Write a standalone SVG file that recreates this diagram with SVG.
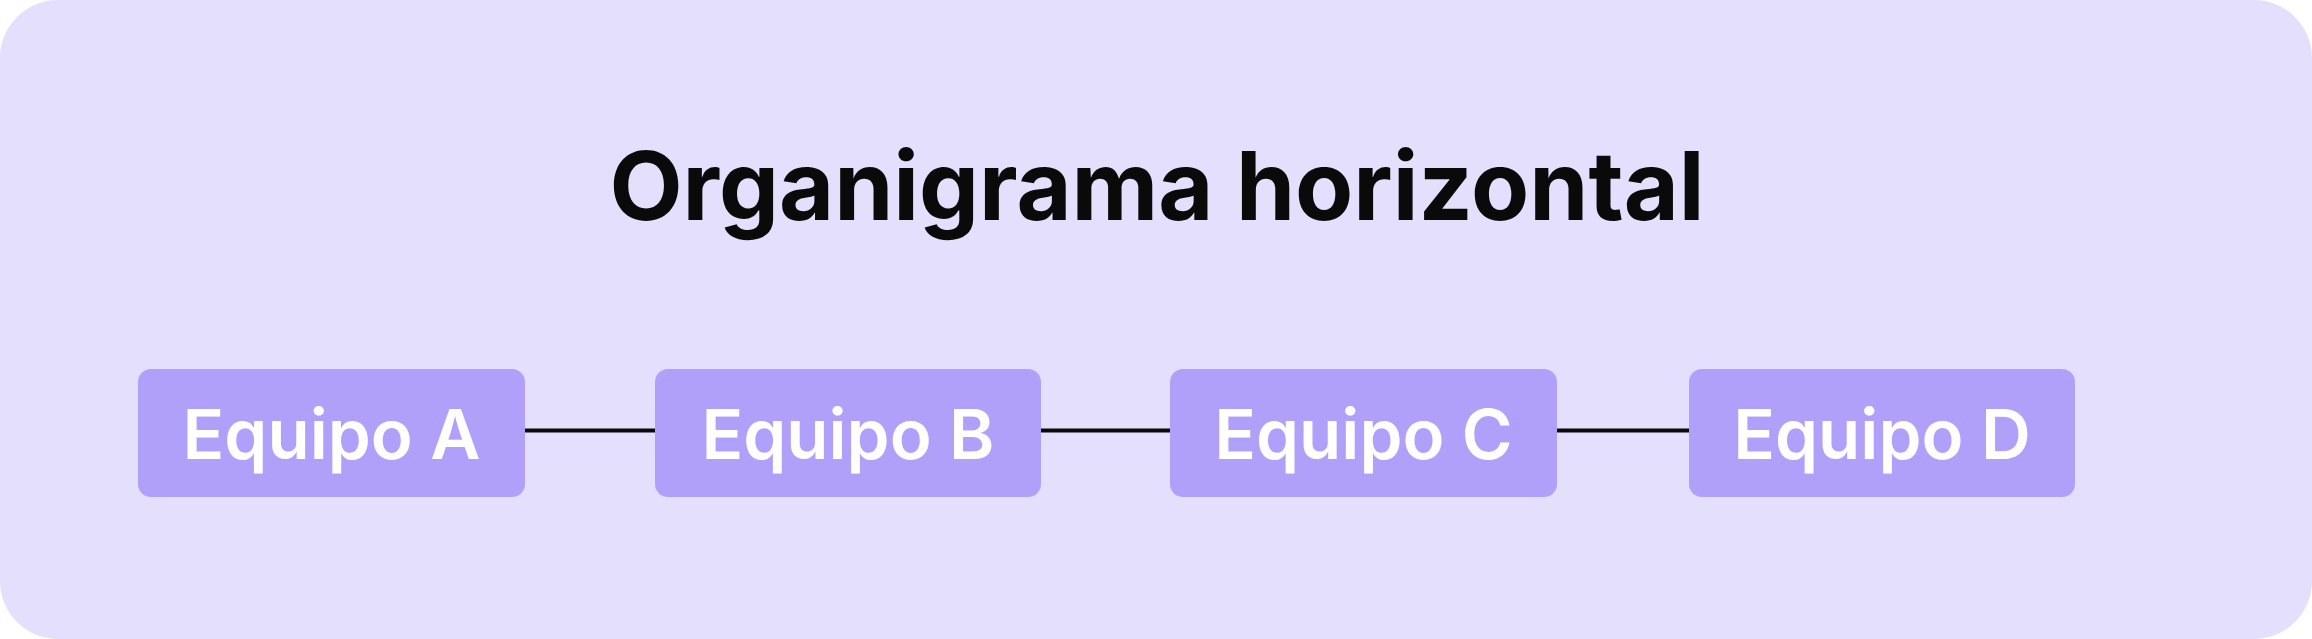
<svg xmlns="http://www.w3.org/2000/svg" width="2312" height="639" viewBox="0 0 2312 639">
  <style>
    .bg { fill: #E3DFFD; }
    .box { fill: #B1A0FA; }
    .label { font-family: Inter, "Noto Sans", "Liberation Sans", sans-serif; font-size: 69px; font-weight: 600; fill: #FFFFFF; text-anchor: middle; }
    .title { font-family: Inter, "Noto Sans", "Liberation Sans", sans-serif; font-size: 95px; font-weight: 700; fill: #0A0A0A; text-anchor: middle; }
    .conn { stroke: #0A0A0A; stroke-width: 4; fill: none; }
  </style>
  <rect x="0" y="0" width="2312" height="639" fill="#FFFFFF"/>
  <rect class="bg" x="0" y="0" width="2312" height="639" rx="58" ry="58"/>
  <text class="title" x="1157" y="220">Organigrama horizontal</text>
  <g id="connectors">
    <line class="conn" x1="525" y1="430.5" x2="655" y2="430.5"/>
    <line class="conn" x1="1041" y1="430.5" x2="1170" y2="430.5"/>
    <line class="conn" x1="1557" y1="430.5" x2="1689" y2="430.5"/>
  </g>
  <g id="node-a">
    <rect class="box" x="138" y="369" width="387" height="128" rx="13" ry="13"/>
    <text class="label" x="331.5" y="459">Equipo A</text>
  </g>
  <g id="node-b">
    <rect class="box" x="655" y="369" width="386" height="128" rx="13" ry="13"/>
    <text class="label" x="848" y="459">Equipo B</text>
  </g>
  <g id="node-c">
    <rect class="box" x="1170" y="369" width="387" height="128" rx="13" ry="13"/>
    <text class="label" x="1363.5" y="459">Equipo C</text>
  </g>
  <g id="node-d">
    <rect class="box" x="1689" y="369" width="386" height="128" rx="13" ry="13"/>
    <text class="label" x="1882" y="459">Equipo D</text>
  </g>
</svg>
